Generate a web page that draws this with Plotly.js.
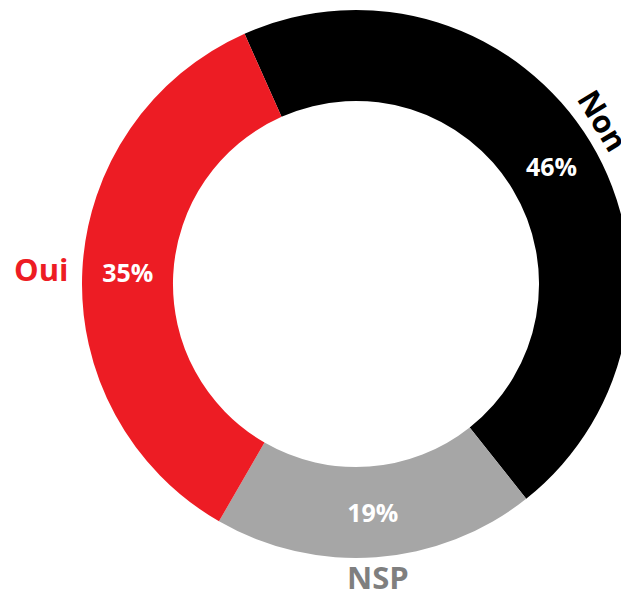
<!DOCTYPE html>
<html>
<head>
<meta charset="utf-8">
<script src="https://cdn.plot.ly/plotly-3.0.1.min.js"></script>
<style>
  html, body { margin: 0; padding: 0; overflow: hidden; background: #ffffff; }
  #chart { width: 700px; height: 592px; }
</style>
</head>
<body>
<div id="chart"></div>
<script>
// ---- data ----
const categories = ["Non", "NSP", "Oui"];
const values = [46, 19, 35];
const sliceColors = ["#000000", "#A6A6A6", "#ED1C24"];
const labelColors = ["#000000", "#7F7F7F", "#ED1C24"];

// ---- geometry (styling) ----
const W = 700, H = 592;
const cx = 356, cy = 284, R = 274;
const startAngle = -24;          // degrees, clockwise from 12 o'clock

const domain = {
  x: [(cx - R) / W, (cx + R) / W],
  y: [1 - (cy + R) / H, 1 - (cy - R) / H]
};

// label placement derived from slice mid-angles
const total = values.reduce((a, b) => a + b, 0);
let acc = 0;
const labelOpts = [
  { dist: 23, shift: -2.2, rotate: true,  xanchor: "center", yanchor: "middle" },
  { dist: 20, shift: 0,    rotate: false, xanchor: "center", yanchor: "middle" },
  { dist: 12, shift: 0,    rotate: false, xanchor: "right",  yanchor: "middle" }
];
const annotations = categories.map((c, i) => {
  const mid = startAngle + (acc + values[i] / 2) / total * 360;
  acc += values[i];
  const o = labelOpts[i];
  const rad = (mid + o.shift) * Math.PI / 180;
  const px = cx + (R + o.dist) * Math.sin(rad);
  const py = cy - (R + o.dist) * Math.cos(rad);
  return {
    text: c,
    xref: "paper", yref: "paper",
    x: px / W, y: 1 - py / H,
    xanchor: o.xanchor, yanchor: o.yanchor,
    textangle: o.rotate ? mid : 0,
    showarrow: false,
    borderpad: 0,
    font: { family: "Open Sans", size: 31, weight: "bold", color: labelColors[i] }
  };
});

const trace = {
  type: "pie",
  labels: categories,
  values: values,
  hole: 0.668,
  sort: false,
  direction: "clockwise",
  rotation: startAngle,
  domain: domain,
  marker: { colors: sliceColors, line: { width: 0 } },
  textinfo: "percent",
  textposition: "inside",
  insidetextorientation: "horizontal",
  textfont: { family: "Open Sans", size: 25, weight: "bold", color: "#ffffff" },
  hoverinfo: "none",
  showlegend: false
};

const layout = {
  width: W, height: H,
  margin: { l: 0, r: 0, t: 0, b: 0 },
  paper_bgcolor: "#ffffff",
  plot_bgcolor: "#ffffff",
  showlegend: false,
  annotations: annotations
};

Plotly.newPlot("chart", [trace], layout, { displayModeBar: false, staticPlot: true });
</script>
</body>
</html>
